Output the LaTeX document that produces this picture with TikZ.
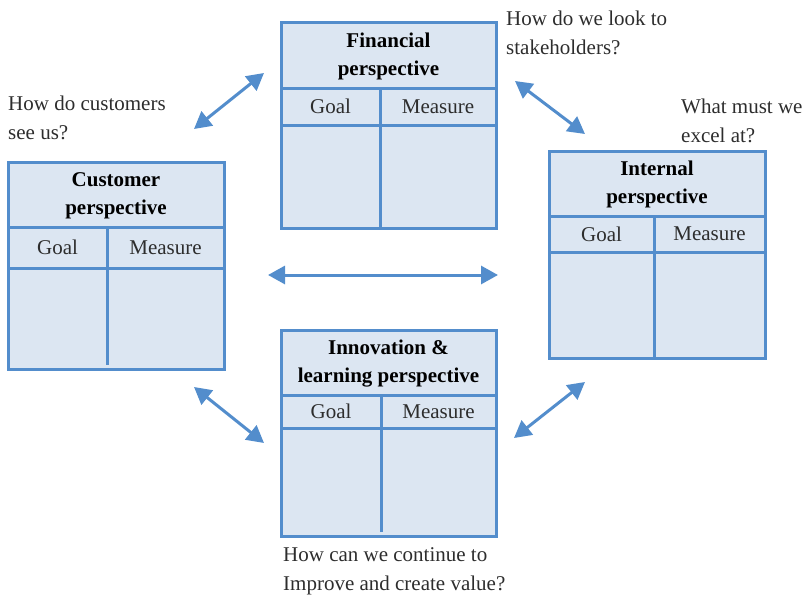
\documentclass[tikz,border=0pt]{standalone}
\usepackage{fontspec}
\setmainfont{Liberation Serif}
\usetikzlibrary{arrows.meta}
\definecolor{cardline}{RGB}{83,141,204}
\definecolor{cardfill}{RGB}{220,230,242}
\definecolor{asktext}{RGB}{45,45,45}
\tikzset{
  card/.style={draw=cardline, fill=cardfill, line width=3pt},
  cardrule/.style={draw=cardline, line width=3pt},
  cardtitle/.style={font=\bfseries\fontsize{21}{28}\selectfont, align=center, inner sep=0pt},
  cardhead/.style={font=\fontsize{21}{28}\selectfont, text=asktext, inner sep=0pt},
  link/.style={cardline, line width=3pt, {Triangle[length=17pt,width=18pt]}-{Triangle[length=17pt,width=18pt]}},
  question/.style={anchor=base west, inner sep=0pt, text=asktext, font=\fontsize{21}{29}\selectfont, align=left},
}
\begin{document}
\begin{tikzpicture}[x=1pt,y=-1pt]
  \useasboundingbox (0,0) rectangle (804,597);
  % the four scorecards
  \foreach \n/\xa/\ya/\xb/\yb/\yt/\yg/\xd/\gap/\t in {
      fin/281/22/496/228/88/125/380/0/{Financial\\perspective},
      cus/8/162/224/369/227/268/107/4/{Customer\\perspective},
      int/549/151/765/358/216/252/654/0/{Internal\\perspective},
      inn/281/330/496/536/395/428/381/4/{Innovation \&\\learning perspective}} {
    \draw[card] (\xa,\ya) rectangle (\xb,\yb);
    \draw[cardrule] (\xa,\yt) -- (\xb,\yt) (\xa,\yg) -- (\xb,\yg);
    \draw[cardrule] (\xd,\yt) -- (\xd,\yb-\gap);
    \node[cardtitle] (\n-title) at ({(\xa+\xb)/2},{(\ya+\yt)/2+1}) {\t};
    \node[cardhead] (\n-goal) at ({(\xa+\xd)/2},{(\yt+\yg)/2}) {Goal};
    \node[cardhead] (\n-measure) at ({(\xd+\xb)/2},{(\yt+\yg)/2}) {Measure};
  }
  % arrow ends
  \coordinate (cf-a) at (194,129);  \coordinate (cf-b) at (264,73);
  \coordinate (fi-a) at (515,81);   \coordinate (fi-b) at (585,134);
  \coordinate (ci-a) at (268,275);  \coordinate (ci-b) at (498,275);
  \coordinate (cn-a) at (194,387);  \coordinate (cn-b) at (264,443);
  \coordinate (ni-a) at (514,438);  \coordinate (ni-b) at (585,382);
  \foreach \p in {cf,fi,ci,cn,ni} { \draw[link] (\p-a) -- (\p-b); }
  % questions (base = last line)
  \node[question] (cus-q) at (8,139) {How do customers\\see us?};
  \node[question] (fin-q) at (506,54) {How do we look to\\stakeholders?};
  \node[question] (int-q) at (681,142) {What must we\\excel at?};
  \node[question] (inn-q) at (283,590) {How can we continue to\\Improve and create value?};
\end{tikzpicture}
\end{document}
